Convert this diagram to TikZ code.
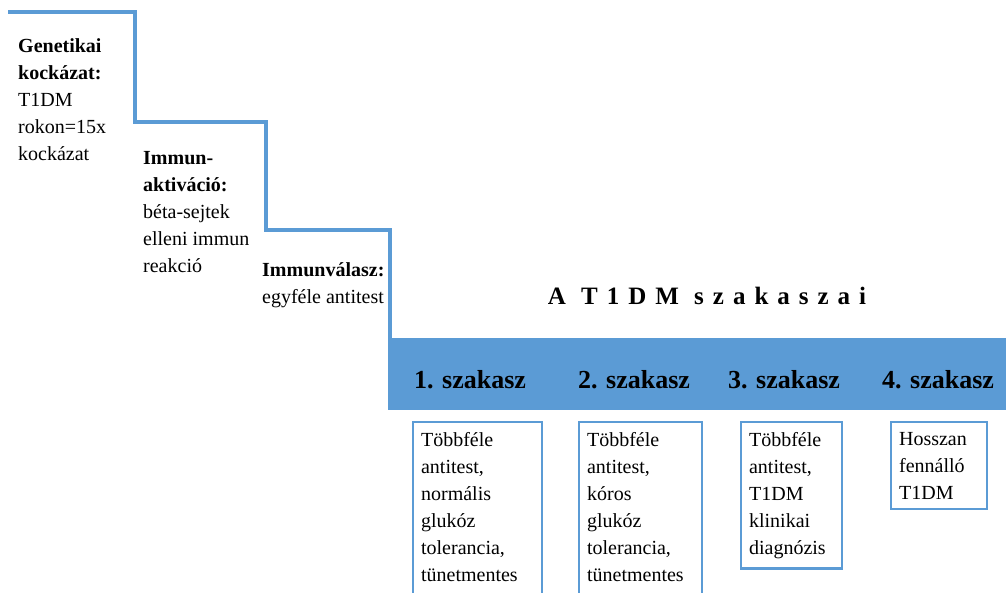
\documentclass[tikz,border=0pt]{standalone}
\usepackage{fontspec}
\setmainfont{Liberation Serif}
\newfontfamily\titlefont[LetterSpace=36]{Liberation Serif}
\usetikzlibrary{positioning}
\definecolor{stepblue}{RGB}{91,155,213}

\begin{document}
\begin{tikzpicture}[
  x=1pt, y=-1pt,
  txt/.style={anchor=north west, inner sep=0pt, align=left, font=\fontsize{20}{27}\selectfont},
  stage/.style={anchor=base, inner sep=0pt, font=\fontsize{26}{30}\selectfont\bfseries},
  descbox/.style={draw=stepblue, line width=2.2pt, anchor=north west, inner xsep=8pt,
                  inner ysep=10pt, align=left, font=\fontsize{20}{27}\selectfont},
  stair/.style={draw=stepblue, line width=4.8pt}
]
  \useasboundingbox (0,0) rectangle (1006,592);
  \clip (0,0) rectangle (1006,592);

  % staircase and the stage bar
  \node[fill=stepblue, anchor=north west, inner sep=0pt, minimum width=618pt,
        minimum height=72pt] (bar) at (388,338) {};
  \coordinate (start) at (8,12);
  \draw[stair] (start) -| (135,122) -| (266,230) -| (bar.north west -| 390,0);

  \node[txt] (gen) at (18,38)
      {\textbf{Genetikai}\\\textbf{kockázat:}\\T1DM\\rokon=15x\\kockázat};
  \node[txt] (akt) at (143,151)
      {\textbf{Immun-}\\\textbf{aktiváció:}\\béta-sejtek\\elleni immun\\reakció};
  \node[txt] (val) at (262,262)
      {\textbf{Immunválasz:}\\egyféle antitest};

  \node[font=\fontsize{25}{28}\titlefont\bfseries] (title) at (707,296) {A T1DM szakaszai};

  \node[stage] (s1) at (470,388) {1. szakasz};
  \node[stage] (s2) at (634,388) {2. szakasz};
  \node[stage] (s3) at (784,388) {3. szakasz};
  \node[stage] (s4) at (938,388) {4. szakasz};

  % the first two boxes run on past the lower edge
  \node[descbox, text width=113pt] (b1) at (412,421)
      {Többféle\\antitest,\\normális\\glukóz\\tolerancia,\\tünetmentes\\\mbox{}};
  \node[descbox, text width=107pt] (b2) at (578,421)
      {Többféle\\antitest,\\kóros\\glukóz\\tolerancia,\\tünetmentes\\\mbox{}};
  \node[descbox, text width=85pt] (b3) at (740,421)
      {Többféle\\antitest,\\T1DM\\klinikai\\diagnózis};
  \node[descbox, text width=80pt] (b4) at (890,421)
      {Hosszan\\fennálló\\T1DM};
\end{tikzpicture}
\end{document}
